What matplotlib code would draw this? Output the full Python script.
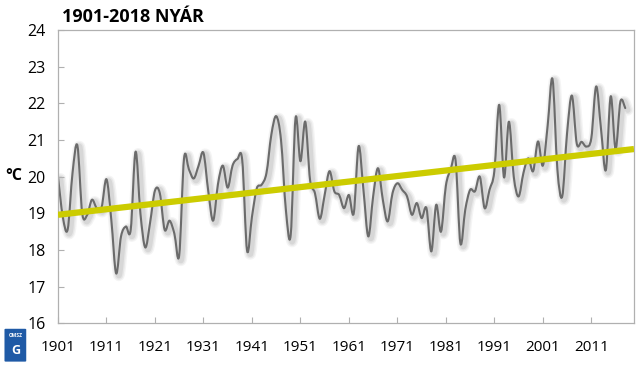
import numpy as np
import matplotlib
matplotlib.use("Agg")
import matplotlib.pyplot as plt
from matplotlib.path import Path
from matplotlib.patches import PathPatch, FancyBboxPatch
import matplotlib.transforms as mtransforms

plt.rcParams["font.family"] = ["Open Sans", "DejaVu Sans"]

# summer mean temperature (°C)
years = np.arange(1901, 2019)
temps = [
    20.0, 18.9, 18.56, 20.1, 20.85, 19.0, 18.95, 19.37, 19.14, 19.17,   # 1901-1910
    19.93, 18.82, 17.36, 18.37, 18.64, 18.55, 20.68, 19.0, 18.07, 18.75,  # 1911-1920
    19.62, 19.55, 18.55, 18.8, 18.45, 17.85, 20.5, 20.2, 19.95, 20.3,    # 1921-1930
    20.65, 19.6, 18.8, 19.8, 20.3, 19.7, 20.3, 20.48, 20.45, 17.98,      # 1931-1940
    18.9, 19.68, 19.78, 20.1, 21.14, 21.65, 21.0, 19.1, 18.41, 21.6,     # 1941-1950
    20.42, 21.5, 19.9, 19.55, 18.85, 19.5, 20.15, 19.6, 19.5, 19.14,     # 1951-1960
    19.5, 19.0, 20.83, 19.64, 18.37, 19.46, 20.23, 19.37, 18.78, 19.55,  # 1961-1970
    19.82, 19.64, 19.46, 18.96, 19.28, 18.87, 19.14, 17.96, 19.23, 18.5, # 1971-1980
    19.75, 20.2, 20.45, 18.18, 19.1, 19.64, 19.6, 20.0, 19.14, 19.64,    # 1981-1990
    20.15, 21.96, 19.98, 21.5, 20.0, 19.46, 20.1, 20.5, 20.15, 20.96,    # 1991-2000
    20.3, 21.4, 22.66, 20.2, 19.46, 21.19, 22.21, 20.9, 20.95, 20.82,    # 2001-2010
    21.05, 22.46, 21.3, 20.18, 22.19, 20.75, 22.05, 21.87,               # 2011-2018
]
temps = np.array(temps)
tick_years = np.arange(1901, 2012, 10)
y_ticks = np.arange(16, 25)


def smooth_path(x, y):
    # Excel-like smoothed line: Catmull-Rom segments as cubic Bezier
    p = np.column_stack([x, y]).astype(float)
    pp = np.vstack([p[0], p, p[-1]])
    verts = [p[0]]
    codes = [Path.MOVETO]
    for i in range(len(p) - 1):
        p0, p1, p2, p3 = pp[i], pp[i + 1], pp[i + 2], pp[i + 3]
        verts += [p1 + (p2 - p0) / 6, p2 - (p3 - p1) / 6, p2]
        codes += [Path.CURVE4] * 3
    return Path(verts, codes)


fig = plt.figure(figsize=(6.4, 3.69), dpi=100)
ax = fig.add_axes([0.0906, 0.1238, 0.9, 0.7949])

path = smooth_path(years, temps)

# soft grey shadow under the curve
for lw, a in [(8, 0.10), (6, 0.14), (4, 0.20)]:
    tr = mtransforms.offset_copy(ax.transData, fig=fig, x=2.5, y=-2, units="dots")
    ax.add_patch(PathPatch(path, fill=False, edgecolor="#9a9a9a", lw=lw, alpha=a,
                           capstyle="round", joinstyle="round", transform=tr))
ax.add_patch(PathPatch(path, fill=False, edgecolor="#6b6b6b", lw=1.5,
                       capstyle="round", joinstyle="round"))

# linear trend
xlim = (1901, 2019.8)
k, b = np.polyfit(years, temps, 1)
xt = np.array(xlim)
ax.plot(xt, k * xt + b, color="#cccc00", lw=4.5, solid_capstyle="butt", zorder=3)

ax.set_xlim(*xlim)
ax.set_ylim(16, 24)
ax.set_xticks(tick_years)
ax.set_xticklabels([str(t) for t in tick_years])
ax.set_yticks(y_ticks)
for s in ax.spines.values():
    s.set_color("#b0b0b0")
    s.set_linewidth(0.9)
ax.tick_params(axis="x", direction="in", length=4, color="#b0b0b0", labelsize=11, pad=12)
ax.tick_params(axis="y", direction="in", length=4, color="#b0b0b0", labelsize=11.5, pad=9)

fig.text(0.097, 0.953, "1901-2018 NYÁR", fontsize=13, fontweight="bold", va="center", ha="left")
fig.text(0.008, 0.522, "°C", fontsize=11.5, fontweight="bold", va="center", ha="left")

# OMSZ logo (simple)
logo = FancyBboxPatch((0.009, 0.022), 0.03, 0.085, boxstyle="round,pad=0.002",
                      transform=fig.transFigure, facecolor="#1f5aa6", edgecolor="none")
fig.patches.append(logo)
fig.text(0.024, 0.092, "OMSZ", fontsize=3.5, color="white", ha="center", va="center", fontweight="bold")
fig.text(0.024, 0.05, "G", fontsize=9, color="white", ha="center", va="center", fontweight="bold")

fig.savefig("out.png", dpi=100, facecolor="white")
